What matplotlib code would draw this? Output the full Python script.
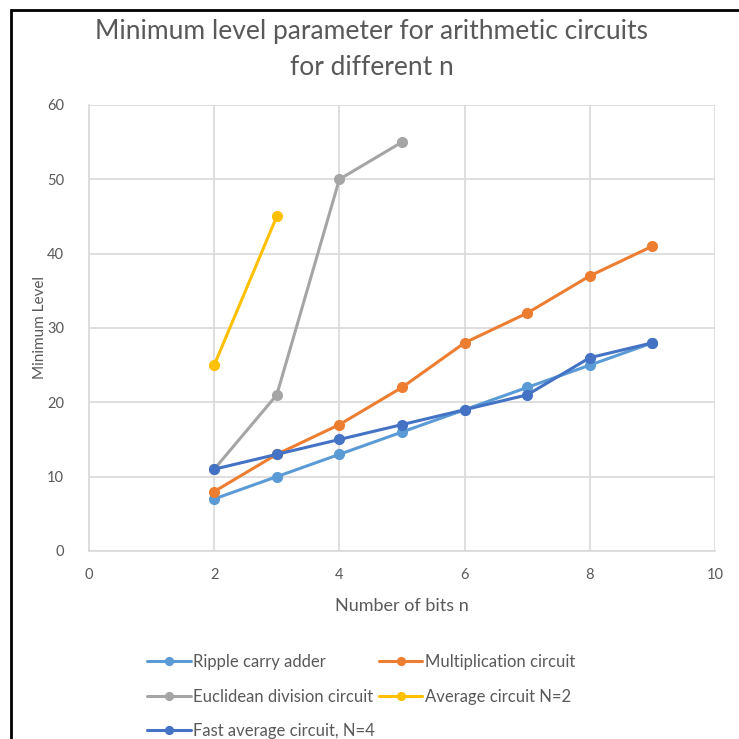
import matplotlib.pyplot as plt
from matplotlib.patches import Rectangle

plt.rcParams['font.family'] = ['Lato', 'DejaVu Sans']

# Minimum level per circuit, indexed by number of bits n
n_ripple = [2, 3, 4, 5, 6, 7, 8, 9]
ripple = [7, 10, 13, 16, 19, 22, 25, 28]
n_mult = [2, 3, 4, 5, 6, 7, 8, 9]
mult = [8, 13, 17, 22, 28, 32, 37, 41]
n_div = [2, 3, 4, 5]
euclid_div = [11, 21, 50, 55]
n_avg2 = [2, 3]
avg2 = [25, 45]
n_fast = [2, 3, 4, 5, 6, 7, 8, 9]
fast_avg4 = [11, 13, 15, 17, 19, 21, 26, 28]

series = [
    (n_ripple, ripple, 'Ripple carry adder', '#5B9BD5'),
    (n_mult, mult, 'Multiplication circuit', '#ED7D31'),
    (n_div, euclid_div, 'Euclidean division circuit', '#A5A5A5'),
    (n_avg2, avg2, 'Average circuit N=2', '#FFC000'),
    (n_fast, fast_avg4, 'Fast average circuit, N=4', '#4472C4'),
]

fig = plt.figure(figsize=(7.39, 7.39), dpi=100)
ax = fig.add_axes([0.1204, 0.2544, 0.8471, 0.6036])

for x, y, label, color in series:
    ax.plot(x, y, color=color, lw=2.2, marker='o', ms=7, label=label,
            solid_capstyle='round')

ax.set_xlim(0, 10)
ax.set_ylim(0, 60)
ax.set_xticks(range(0, 11, 2))
ax.set_yticks(range(0, 61, 10))
ax.grid(True, color='#D9D9D9', lw=1.2)
ax.set_axisbelow(True)
for side in ['top', 'right']:
    ax.spines[side].set_visible(False)
for side in ['left', 'bottom']:
    ax.spines[side].set_color('#D9D9D9')
    ax.spines[side].set_linewidth(1.2)
ax.tick_params(length=0, colors='#595959', labelsize=10.5, pad=12)
ax.tick_params(axis='y', pad=18)

ax.set_xlabel('Number of bits n', fontsize=13, color='#595959', labelpad=12)
ax.set_ylabel('Minimum Level', fontsize=11, color='#595959', labelpad=0)

fig.text(0.503, 0.974, 'Minimum level parameter for arithmetic circuits\nfor different n',
         ha='center', va='top', fontsize=19, color='#595959', linespacing=1.55)

# legend filled row by row: reorder for matplotlib's column-major layout
handles, labels = ax.get_legend_handles_labels()
order = [0, 2, 4, 1, 3]
fig.legend([handles[i] for i in order], [labels[i] for i in order],
           loc='upper left', bbox_to_anchor=(0.179, 0.135),
           ncol=2, frameon=False, fontsize=12, labelcolor='#595959',
           handlelength=2.6, handletextpad=0.15, columnspacing=0.25,
           labelspacing=1.1, markerscale=0.8)

# outer chart border
fig.patches.append(Rectangle((11 / 739, -0.1), 1.2, 1 - 10 / 739 + 0.1,
                             transform=fig.transFigure, fill=False,
                             edgecolor='black', lw=2))

plt.savefig('out.png', dpi=100)
plt.close()
